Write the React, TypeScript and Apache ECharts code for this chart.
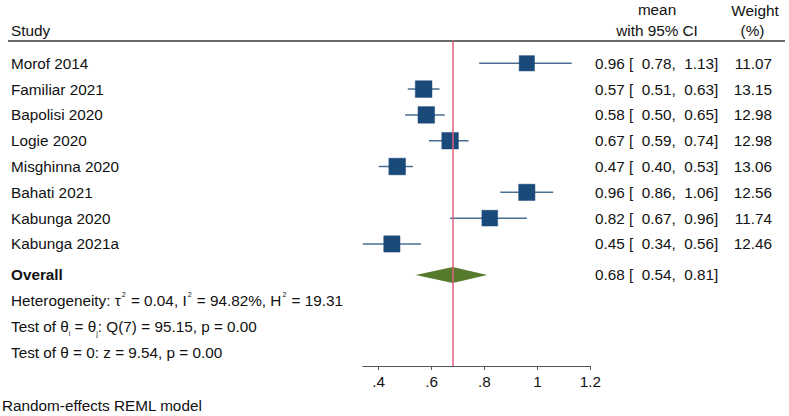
import React, { useEffect, useRef } from "react";
import * as echarts from "echarts";

const studies = [
  "Morof 2014",
  "Familiar 2021",
  "Bapolisi 2020",
  "Logie 2020",
  "Misghinna 2020",
  "Bahati 2021",
  "Kabunga 2020",
  "Kabunga 2021a",
];
const means = [0.96, 0.57, 0.58, 0.67, 0.47, 0.96, 0.82, 0.45];
const lowers = [0.78, 0.51, 0.5, 0.59, 0.4, 0.86, 0.67, 0.34];
const uppers = [1.13, 0.63, 0.65, 0.74, 0.53, 1.06, 0.96, 0.56];
const weights = [11.07, 13.15, 12.98, 12.98, 13.06, 12.56, 11.74, 12.46];

const overall = { mean: 0.68, lower: 0.54, upper: 0.81 };
const tau2 = 0.04;
const i2 = 94.82;
const h2 = 19.31;
const qStat = 95.15;
const qDf = 7;
const qP = 0.0;
const zStat = 9.54;
const zP = 0.0;

const xTicks = [0.4, 0.6, 0.8, 1, 1.2];

const FONT = "'Liberation Sans', Arial, Helvetica, sans-serif";
const TXT = "#111111";
const FS = 15.3;
const NB = "\u00A0";

const f2 = (v: number) => v.toFixed(2);
const ciText = (m: number, l: number, u: number) =>
  `${f2(m)} [${NB}${NB}${f2(l)},${NB}${NB}${f2(u)}]`;

const ROW_OVERALL = 8.2;
const statRows = [9.2, 10.2, 11.2];
const statTexts = [
  `{t|Heterogeneity: τ}{sup|2}{t| = ${f2(tau2)}, I}{sup|2}{t| = ${f2(i2)}%, H}{sup|2}{t| = ${f2(h2)}}`,
  `{t|Test of θ}{sub|i}{t| = θ}{sub|j}{t|: Q(${qDf}) = ${f2(qStat)}, p = ${f2(qP)}}`,
  `{t|Test of θ = 0: z = ${f2(zStat)}, p = ${f2(zP)}}`,
];

export default function App() {
  const ref = useRef<HTMLDivElement>(null);
  useEffect(() => {
    if (!ref.current) return;
    const chart = echarts.init(ref.current, undefined, { renderer: "svg" });

    const studyData = studies.map((_, i) => [i, means[i], lowers[i], uppers[i], weights[i]]);

    const textStyle = (extra: any) => ({
      fontSize: FS,
      fontFamily: FONT,
      fill: TXT,
      verticalAlign: "middle",
      textVerticalAlign: "middle",
      ...extra,
    });

    const option: any = {
      animation: false,
      backgroundColor: "#ffffff",
      grid: { left: 362.8, width: 227.5, top: 41, height: 325, containLabel: false },
      xAxis: {
        type: "value",
        min: 0.34,
        max: 1.2,
        splitLine: { show: false },
        axisLine: { show: true, onZero: false, lineStyle: { color: "#555", width: 1 } },
        axisTick: { show: true, customValues: xTicks, length: 4, lineStyle: { color: "#555" } },
        axisLabel: {
          customValues: xTicks,
          fontSize: FS,
          fontFamily: FONT,
          color: TXT,
          margin: 8,
          formatter: (v: number) => String(v).replace(/^0\./, "."),
        },
      },
      yAxis: {
        type: "value",
        inverse: true,
        min: -0.864,
        max: 11.73,
        show: false,
        splitLine: { show: false },
      },
      graphic: [
        {
          type: "line",
          shape: { x1: 8, y1: 41, x2: 785, y2: 41 },
          style: { stroke: "#3a3a3a", lineWidth: 1.5 },
        },
        {
          type: "text",
          x: 11,
          y: 30,
          style: textStyle({ text: "Study", align: "left", textAlign: "left" }),
        },
        {
          type: "text",
          x: 657,
          y: 9,
          style: textStyle({ text: "mean", align: "center", textAlign: "center" }),
        },
        {
          type: "text",
          x: 657,
          y: 30,
          style: textStyle({ text: "with 95% CI", align: "center", textAlign: "center" }),
        },
        {
          type: "text",
          x: 755,
          y: 10,
          style: textStyle({ text: "Weight", align: "center", textAlign: "center" }),
        },
        {
          type: "text",
          x: 752.5,
          y: 30,
          style: textStyle({ text: "(%)", align: "center", textAlign: "center" }),
        },
        {
          type: "text",
          x: 2,
          y: 405,
          style: textStyle({ text: "Random-effects REML model", align: "left", textAlign: "left" }),
        },
      ],
      series: [
        {
          type: "custom",
          name: "studies",
          data: studyData,
          encode: { x: [1, 2, 3], y: 0 },
          clip: false,
          renderItem: (params: any, api: any) => {
            const idx = params.dataIndex;
            const row = api.value(0);
            const m = api.value(1);
            const lo = api.value(2);
            const hi = api.value(3);
            const w = api.value(4);
            const pm = api.coord([m, row]);
            const plo = api.coord([lo, row]);
            const phi = api.coord([hi, row]);
            const s = 4.6 * Math.sqrt(w);
            return {
              type: "group",
              children: [
                {
                  type: "line",
                  shape: { x1: plo[0], y1: plo[1], x2: phi[0], y2: phi[1] },
                  style: { stroke: "#4a6f93", lineWidth: 1.5 },
                },
                {
                  type: "rect",
                  shape: { x: pm[0] - s / 2, y: pm[1] - s / 2, width: s, height: s },
                  style: { fill: "#1a4a7a", stroke: "#1a4a7a", lineWidth: 0.5 },
                },
                {
                  type: "text",
                  x: 11,
                  y: pm[1],
                  style: textStyle({ text: studies[idx], align: "left", textAlign: "left" }),
                },
                {
                  type: "text",
                  x: 595,
                  y: pm[1],
                  style: textStyle({ text: ciText(m, lo, hi), align: "left", textAlign: "left" }),
                },
                {
                  type: "text",
                  x: 772,
                  y: pm[1],
                  style: textStyle({ text: f2(w), align: "right", textAlign: "right" }),
                },
              ],
            };
          },
          markLine: {
            silent: true,
            symbol: "none",
            label: { show: false },
            lineStyle: { color: "#e0607e", width: 1.5, type: "solid" },
            data: [{ xAxis: overall.mean }],
          },
        },
        {
          type: "custom",
          name: "overall",
          data: [[ROW_OVERALL, overall.mean, overall.lower, overall.upper]],
          encode: { x: [1, 2, 3], y: 0 },
          clip: false,
          z: 3,
          renderItem: (params: any, api: any) => {
            const row = api.value(0);
            const m = api.value(1);
            const lo = api.value(2);
            const hi = api.value(3);
            const pm = api.coord([m, row]);
            const plo = api.coord([lo, row]);
            const phi = api.coord([hi, row]);
            const h = 8;
            return {
              type: "group",
              children: [
                {
                  type: "polygon",
                  shape: {
                    points: [
                      [plo[0], pm[1]],
                      [pm[0], pm[1] - h],
                      [phi[0], pm[1]],
                      [pm[0], pm[1] + h],
                    ],
                  },
                  style: { fill: "#557a2c" },
                },
                {
                  type: "text",
                  x: 11,
                  y: pm[1],
                  style: textStyle({ text: "Overall", fontWeight: "bold", align: "left", textAlign: "left" }),
                },
                {
                  type: "text",
                  x: 595,
                  y: pm[1],
                  style: textStyle({ text: ciText(m, lo, hi), align: "left", textAlign: "left" }),
                },
              ],
            };
          },
        },
        {
          type: "custom",
          name: "stats",
          data: statRows.map((r, i) => [i, r]),
          encode: { x: 0, y: 1 },
          clip: false,
          renderItem: (params: any, api: any) => {
            const idx = params.dataIndex;
            const row = api.value(1);
            const p = api.coord([overall.mean, row]);
            return {
              type: "text",
              x: 11,
              y: p[1],
              style: {
                text: statTexts[idx],
                align: "left",
                textAlign: "left",
                verticalAlign: "middle",
                textVerticalAlign: "middle",
                rich: {
                  t: { fontSize: FS, fontFamily: FONT, fill: TXT, color: TXT, lineHeight: 20 },
                  sup: {
                    fontSize: 7,
                    fontFamily: FONT,
                    fill: TXT,
                    color: TXT,
                    lineHeight: 7,
                    verticalAlign: "top",
                    padding: [0, 1, 0, 1],
                  },
                  sub: {
                    fontSize: 7,
                    fontFamily: FONT,
                    fill: TXT,
                    color: TXT,
                    lineHeight: 14,
                    verticalAlign: "bottom",
                  },
                },
              },
            };
          },
        },
      ],
    };

    chart.setOption(option);
    return () => chart.dispose();
  }, []);

  return (
    <div
      ref={ref}
      style={{ position: "fixed", left: 0, top: 0, width: 789, height: 416, background: "#fff" }}
    />
  );
}
